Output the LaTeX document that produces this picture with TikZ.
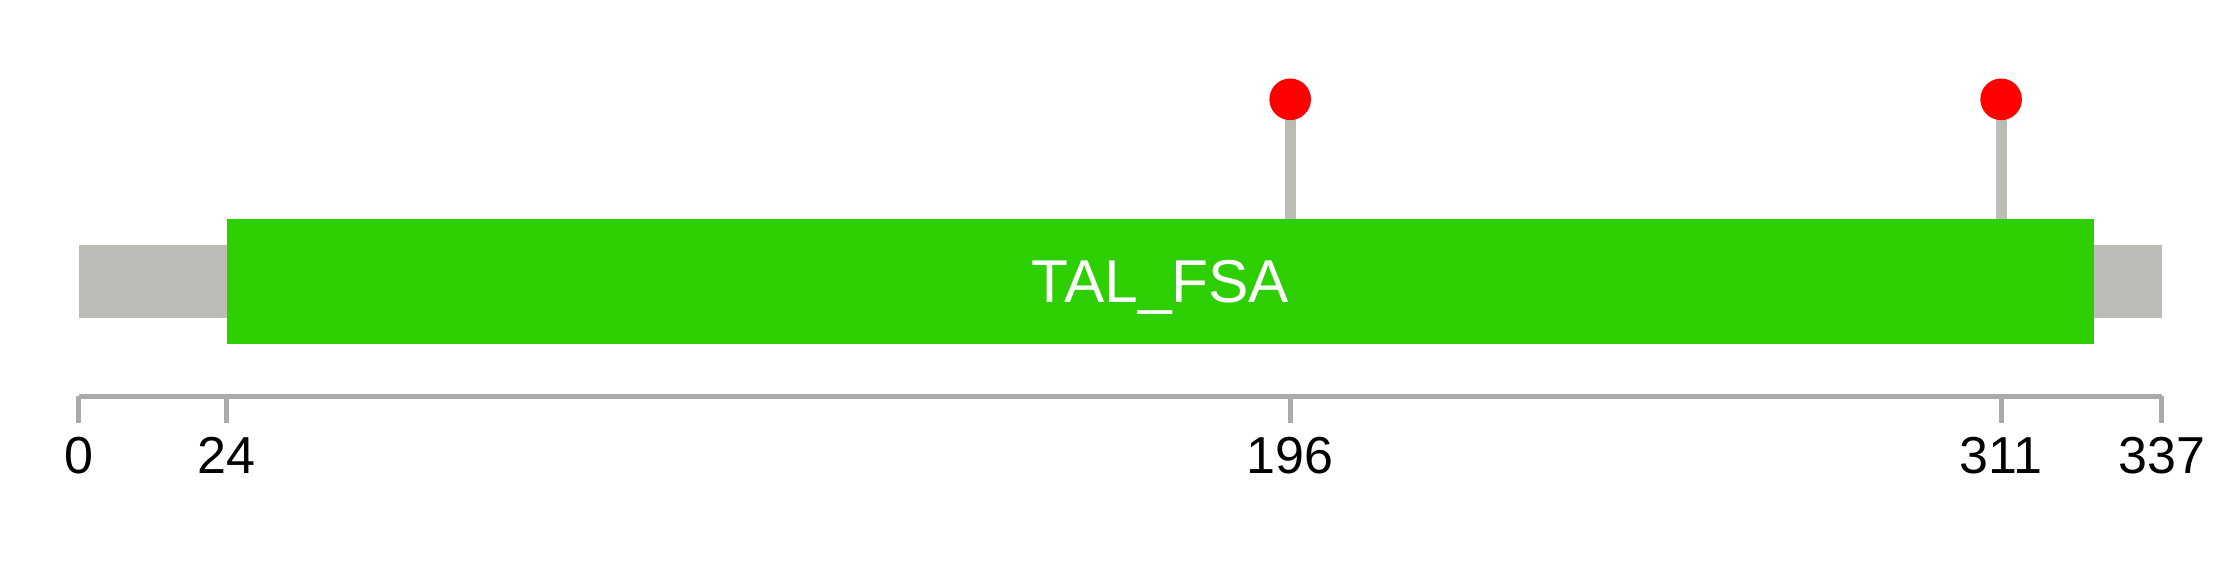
\documentclass[tikz,border=0pt]{standalone}
\usepackage{fontspec}
\setmainfont{Liberation Sans}
\usetikzlibrary{positioning,calc}
\definecolor{chaingrey}{HTML}{BABDB6}
\definecolor{domgreen}{HTML}{2ECF00}
\definecolor{axisgrey}{HTML}{AAAAAA}
\definecolor{pinred}{HTML}{FF0000}

\begin{document}
\begin{tikzpicture}[x=1pt, y=-1pt, inner sep=0pt, outer sep=0pt,
    chainbar/.style={fill=chaingrey, minimum width=2083pt, minimum height=73.3pt},
    pfamdomain/.style={fill=domgreen, text=white, minimum width=1867.3pt, minimum height=125.3pt,
        text depth=0pt, font=\fontsize{60.5}{70}\selectfont},
    sitestem/.style={draw=chaingrey, line width=11pt},
    sitepin/.style={circle, fill=pinred, minimum size=41.6pt},
    axisline/.style={draw=axisgrey, line width=5pt},
    ticklabel/.style={anchor=base, font=\fontsize{52}{60}\selectfont}]
    \useasboundingbox (0,0) rectangle (2239,578);

    % protein chain and domain
    \node [chainbar] (chain) at (1120,281.6) {};
    \node [pfamdomain] (domain) at (1160.4,281.6) {TAL\_FSA};

    % mutation sites
    \foreach \p in {196,311} {
        \coordinate (site\p) at ({78.5+\p*6.182},99.3);
        \draw [sitestem] (site\p) -- (site\p |- domain.north);
        \node [sitepin] (pin\p) at (site\p) {};
    }

    % position axis
    \foreach \p in {0,24,196,311,337} {
        \coordinate (tick\p) at ({78.5+\p*6.182},396);
        \node [ticklabel] (label\p) at ($(tick\p)+(0,77.5)$) {\p};
    }
    \draw [axisline] (tick0) -- (tick337);
    \foreach \p in {0,24,196,311,337}
        \draw [axisline] (tick\p) -- ++(0,26.7);
\end{tikzpicture}
\end{document}
